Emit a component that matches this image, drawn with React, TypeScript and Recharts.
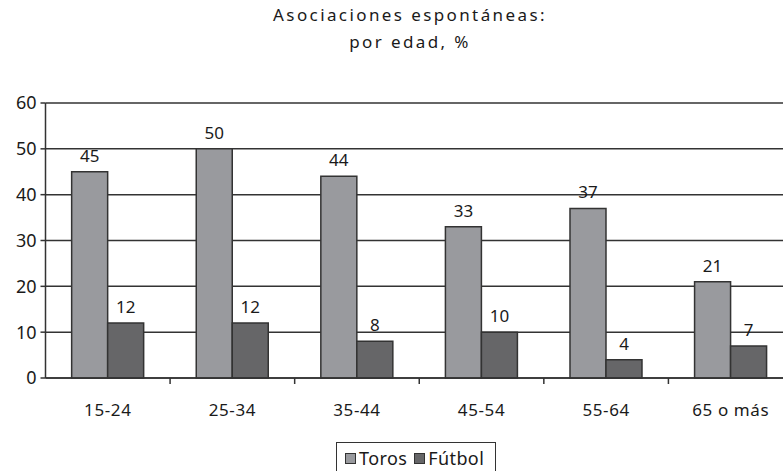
import React from 'react';
import { BarChart, Bar, XAxis, YAxis, CartesianGrid, LabelList } from 'recharts';

const categories = ['15-24', '25-34', '35-44', '45-54', '55-64', '65 o más'];
const toros = [45, 50, 44, 33, 37, 21];
const futbol = [12, 12, 8, 10, 4, 7];
const yTicks = [0, 10, 20, 30, 40, 50, 60];

const data = categories.map((edad, i) => ({ edad, Toros: toros[i], Fútbol: futbol[i] }));

const FONT = '"Noto Sans", "Open Sans", sans-serif';
const TEXT = '#1a1a1a';
const TOROS_FILL = '#999a9e';
const FUTBOL_FILL = '#666668';
const EDGE = '#333';

// tick marks sit between categories, not under them
function EdadTick(props: any) {
  const { x, y, width, payload } = props;
  const half = width / categories.length / 2;
  return (
    <g>
      <line x1={x + half} y1={y} x2={x + half} y2={y + 6} stroke={EDGE} strokeWidth={1.5} />
      <text x={x} y={y + 38} textAnchor="middle" fill={TEXT} fontSize={17} fontFamily={FONT} letterSpacing={0.6}>
        {payload.value}
      </text>
    </g>
  );
}

function Leyenda() {
  const items = [
    { name: 'Toros', color: TOROS_FILL },
    { name: 'Fútbol', color: FUTBOL_FILL },
  ];
  return (
    <div
      style={{
        position: 'absolute',
        left: 336,
        top: 442,
        width: 160,
        boxSizing: 'border-box',
        display: 'flex',
        alignItems: 'center',
        border: `1px solid ${EDGE}`,
        padding: '3px 0 8px 8px',
        fontFamily: FONT,
        fontSize: 18,
        letterSpacing: 0.4,
        color: TEXT,
        background: '#fff',
      }}
    >
      {items.map((it, i) => (
        <span key={it.name} style={{ display: 'inline-flex', alignItems: 'center', marginRight: i === 0 ? 7 : 0 }}>
          <span
            style={{
              display: 'inline-block',
              width: 9,
              height: 9,
              background: it.color,
              border: `1.5px solid ${EDGE}`,
              marginRight: 3,
            }}
          />
          {it.name}
        </span>
      ))}
    </div>
  );
}

export default function App() {
  return (
    <div style={{ position: 'absolute', left: 0, top: 0, width: 783, height: 471, overflow: 'hidden', background: '#fff' }}>
      <div
        style={{
          position: 'absolute',
          left: 0,
          top: 1,
          width: 820,
          textAlign: 'center',
          fontFamily: FONT,
          fontSize: 17,
          letterSpacing: 2.4,
          lineHeight: '27px',
          color: TEXT,
        }}
      >
        Asociaciones espontáneas:
        <br />
        por edad, %
      </div>
      <BarChart
        width={800}
        height={471}
        data={data}
        margin={{ top: 103, right: 7, bottom: 63, left: 1.5 }}
        barCategoryGap="21%"
        barGap={0}
      >
        <CartesianGrid horizontal vertical={false} stroke={EDGE} strokeWidth={1.5} />
        <XAxis
          dataKey="edad"
          height={30}
          axisLine={{ stroke: EDGE, strokeWidth: 1.5 }}
          tickLine={false}
          tickSize={0}
          tickMargin={0}
          tick={<EdadTick />}
          interval={0}
        />
        <YAxis
          width={44}
          domain={[0, 60]}
          ticks={yTicks}
          axisLine={{ stroke: EDGE, strokeWidth: 1.5 }}
          tickLine={{ stroke: EDGE, strokeWidth: 1.5 }}
          tickSize={5}
          tickMargin={4}
          tick={{ fill: TEXT, fontSize: 18, fontFamily: FONT }}
        />
        <Bar dataKey="Toros" fill={TOROS_FILL} stroke={EDGE} strokeWidth={1.5} isAnimationActive={false}>
          <LabelList dataKey="Toros" position="top" offset={10} fill={TEXT} fontSize={17} fontFamily={FONT} />
        </Bar>
        <Bar dataKey="Fútbol" fill={FUTBOL_FILL} stroke={EDGE} strokeWidth={1.5} isAnimationActive={false}>
          <LabelList dataKey="Fútbol" position="top" offset={10} fill={TEXT} fontSize={17} fontFamily={FONT} />
        </Bar>
      </BarChart>
      <Leyenda />
    </div>
  );
}
